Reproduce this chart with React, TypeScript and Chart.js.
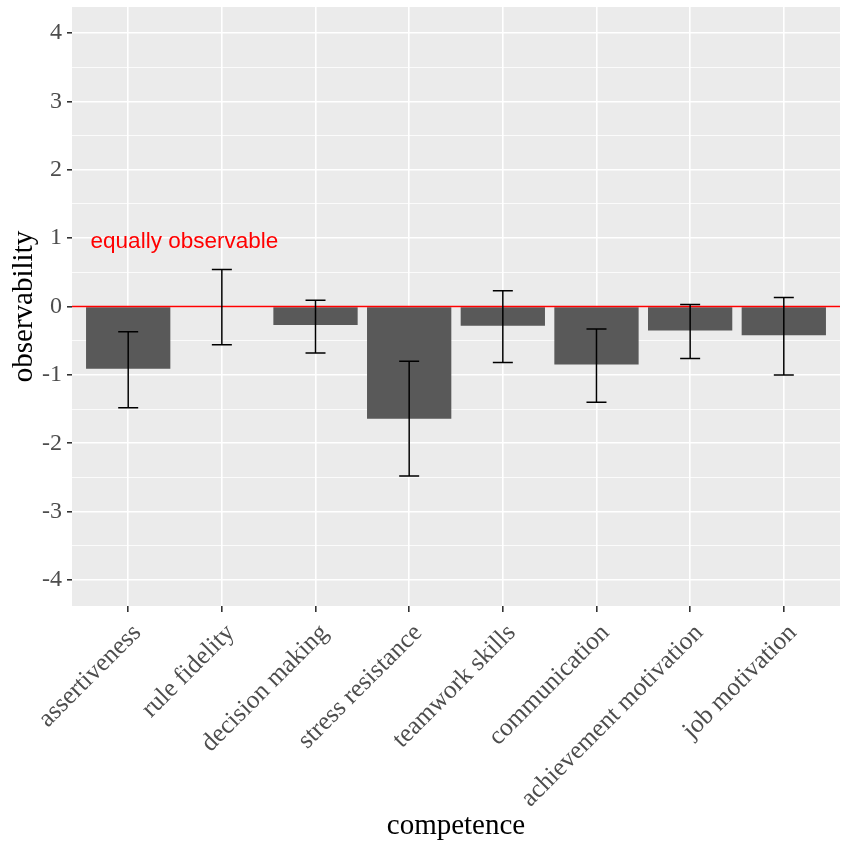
import { useEffect, useRef } from 'react';
import { Chart, ChartConfiguration, Plugin, registerables } from 'chart.js';

Chart.register(...registerables);

// competences on the x axis
const competences = [
  'assertiveness',
  'rule fidelity',
  'decision making',
  'stress resistance',
  'teamwork skills',
  'communication',
  'achievement motivation',
  'job motivation',
];

// mean observability per competence
const observability = [-0.91, 0, -0.27, -1.64, -0.28, -0.85, -0.35, -0.42];

// error bar ends
const errLow = [-1.48, -0.56, -0.68, -2.48, -0.82, -1.4, -0.76, -1.0];
const errHigh = [-0.37, 0.54, 0.09, -0.8, 0.23, -0.33, 0.03, 0.13];

// y axis ticks (majors labelled, halves as minor grid)
const yTicks = [-4, -3.5, -3, -2.5, -2, -1.5, -1, -0.5, 0, 0.5, 1, 1.5, 2, 2.5, 3, 3.5, 4];

const referenceValue = 0;
const referenceLabel = 'equally observable';

const SERIF = '"Liberation Serif", "Times New Roman", serif';

const panelPlugin: Plugin = {
  id: 'panel',
  beforeDraw(chart) {
    const { ctx, chartArea } = chart;
    ctx.save();
    ctx.fillStyle = '#EBEBEB';
    ctx.fillRect(chartArea.left, chartArea.top, chartArea.right - chartArea.left, chartArea.bottom - chartArea.top);
    ctx.restore();
  },
  afterDatasetsDraw(chart) {
    const { ctx, chartArea, scales } = chart;
    const x = scales.x;
    const y = scales.y;
    ctx.save();

    // reference line
    const y0 = y.getPixelForValue(referenceValue);
    ctx.strokeStyle = '#FF0000';
    ctx.lineWidth = 1.6;
    ctx.beginPath();
    ctx.moveTo(chartArea.left, y0);
    ctx.lineTo(chartArea.right, y0);
    ctx.stroke();

    // error bars
    ctx.strokeStyle = '#000000';
    ctx.lineWidth = 1.5;
    const cap = 10;
    competences.forEach((_, i) => {
      const px = x.getPixelForValue(i + 1);
      const pLo = y.getPixelForValue(errLow[i]);
      const pHi = y.getPixelForValue(errHigh[i]);
      ctx.beginPath();
      ctx.moveTo(px, pLo);
      ctx.lineTo(px, pHi);
      ctx.moveTo(px - cap, pLo);
      ctx.lineTo(px + cap, pLo);
      ctx.moveTo(px - cap, pHi);
      ctx.lineTo(px + cap, pHi);
      ctx.stroke();
    });

    // label
    ctx.fillStyle = '#FF0000';
    ctx.font = '22.5px "Liberation Sans", Arial, sans-serif';
    ctx.textAlign = 'center';
    ctx.textBaseline = 'middle';
    ctx.fillText(referenceLabel, x.getPixelForValue(1.6), y.getPixelForValue(0.94));
    ctx.restore();
  },
  afterDraw(chart) {
    // rotated category labels, anchored at their top-right corner like ggplot
    const { ctx, chartArea, scales } = chart;
    const x = scales.x;
    ctx.save();
    ctx.fillStyle = '#4D4D4D';
    ctx.font = `25.5px ${SERIF}`;
    ctx.textAlign = 'right';
    ctx.textBaseline = 'top';
    competences.forEach((label, i) => {
      const px = x.getPixelForValue(i + 1);
      ctx.save();
      ctx.translate(px, chartArea.bottom + 14);
      ctx.rotate(-Math.PI / 4);
      ctx.fillText(label, 0, 0);
      ctx.restore();
    });
    ctx.restore();
  },
};

export default function App() {
  const chartRef = useRef<HTMLCanvasElement>(null);
  const chartInstance = useRef<Chart | null>(null);

  useEffect(() => {
    if (!chartRef.current) return;
    const ctx = chartRef.current.getContext('2d');
    if (!ctx) return;

    if (chartInstance.current) {
      chartInstance.current.destroy();
    }

    const config: ChartConfiguration = {
      type: 'bar',
      data: {
        datasets: [
          {
            label: 'observability',
            data: observability.map((v, i) => ({ x: i + 1, y: v })),
            backgroundColor: '#595959',
            borderWidth: 0,
            barPercentage: 0.9,
            categoryPercentage: 1,
          },
        ],
      },
      options: {
        animation: false,
        responsive: true,
        maintainAspectRatio: false,
        layout: { padding: { top: 7, right: 11, left: 0, bottom: 0 } },
        plugins: {
          legend: { display: false },
          tooltip: { enabled: false },
        },
        scales: {
          x: {
            type: 'linear',
            min: 0.4,
            max: 8.6,
            offset: false,
            afterBuildTicks: (axis) => {
              axis.ticks = competences.map((_, i) => ({ value: i + 1 }));
            },
            afterFit: (axis) => {
              axis.height = 242;
              axis.paddingLeft = 0;
              axis.paddingRight = 0;
            },
            ticks: { display: false },
            grid: {
              offset: false,
              color: '#FFFFFF',
              lineWidth: 1.6,
              drawTicks: true,
              tickColor: '#333333',
              tickLength: 6,
            },
            border: { display: false },
            title: {
              display: true,
              text: 'competence',
              color: '#000000',
              font: { family: SERIF, size: 29 },
              padding: { top: 0, bottom: 4 },
            },
          },
          y: {
            min: -4.38,
            max: 4.38,
            afterBuildTicks: (axis) => {
              axis.ticks = yTicks.map((v) => ({ value: v }));
            },
            afterFit: (axis) => {
              axis.width = 72;
              axis.paddingTop = 0;
              axis.paddingBottom = 0;
            },
            ticks: {
              autoSkip: false,
              padding: 5,
              color: '#4D4D4D',
              font: { family: SERIF, size: 24 },
              callback: (value) => (Number.isInteger(Number(value)) ? String(value) : ''),
            },
            grid: {
              color: '#FFFFFF',
              lineWidth: (c) => (Number.isInteger(c.tick?.value) ? 1.6 : 0.8),
              tickColor: (c) => (Number.isInteger(c.tick?.value) ? '#333333' : 'rgba(0,0,0,0)'),
              tickLength: 5,
            },
            border: { display: false },
            title: {
              display: true,
              text: 'observability',
              color: '#000000',
              font: { family: SERIF, size: 29 },
              padding: { top: 7, bottom: 0 },
            },
          },
        },
      },
      plugins: [panelPlugin],
    };

    chartInstance.current = new Chart(ctx, config);

    return () => {
      if (chartInstance.current) {
        chartInstance.current.destroy();
        chartInstance.current = null;
      }
    };
  }, []);

  return (
    <div style={{ position: 'fixed', left: 0, top: 0, width: 851, height: 848, background: '#FFFFFF' }}>
      <canvas ref={chartRef}></canvas>
    </div>
  );
}
